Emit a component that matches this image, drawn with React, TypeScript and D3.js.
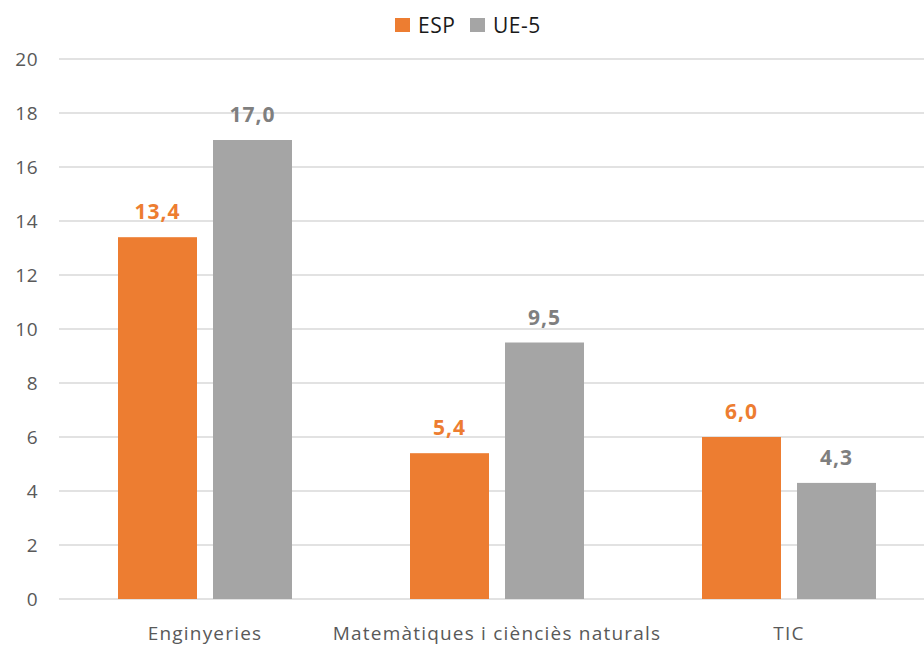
import React from "react";
import * as d3 from "d3";

const categories = ["Enginyeries", "Matemàtiques i ciènciès naturals", "TIC"];
const seriesNames = ["ESP", "UE-5"];
const espValues = [13.4, 5.4, 6.0];
const ueValues = [17.0, 9.5, 4.3];
const yTicks = [0, 2, 4, 6, 8, 10, 12, 14, 16, 18, 20];

const colors = ["#ED7D31", "#A5A5A5"];
const labelColors = ["#ED7D31", "#7F7F7F"];
const FONT = "'Open Sans', 'Noto Sans', sans-serif";

export default function App() {
  const W = 924;
  const H = 645;
  const left = 59;
  const right = 935;
  const top = 59;
  const bottom = 599;

  const x = d3.scaleBand<string>().domain(categories).range([left, right]).paddingInner(0).paddingOuter(0);
  const y = d3.scaleLinear().domain([0, 20]).range([bottom, top]);
  const barW = 79;
  const gap = 16;
  const groupW = barW * 2 + gap;
  const series = [espValues, ueValues];

  return (
    <div style={{ position: "absolute", left: 0, top: 0 }}>
      <svg width={W} height={H} style={{ display: "block", background: "#fff" }}>
        {yTicks.map((t) => (
          <g key={t}>
            <line x1={left} x2={right} y1={y(t)} y2={y(t)} stroke="#D9D9D9" strokeWidth={1.3} />
            <text x={38} y={y(t)} dy="0.36em" textAnchor="end" fontFamily={FONT} fontSize={19} letterSpacing={0.5} fill="#595959">
              {t}
            </text>
          </g>
        ))}
        {categories.map((c, i) => {
          const gx = (x(c) as number) + (x.bandwidth() - groupW) / 2;
          return (
            <g key={c}>
              {series.map((vals, s) => {
                const bx = gx + s * (barW + gap);
                const v = vals[i];
                return (
                  <g key={s}>
                    <rect x={bx} y={y(v)} width={barW} height={bottom - y(v)} fill={colors[s]} />
                    <text
                      x={bx + barW / 2}
                      y={y(v) - 18}
                      textAnchor="middle"
                      fontFamily={FONT}
                      fontWeight={700}
                      fontSize={21}
                      letterSpacing={1}
                      fill={labelColors[s]}
                    >
                      {v.toFixed(1).replace(".", ",")}
                    </text>
                  </g>
                );
              })}
              <text
                x={(x(c) as number) + x.bandwidth() / 2}
                y={640}
                textAnchor="middle"
                fontFamily={FONT}
                fontSize={19}
                letterSpacing={1.2}
                fill="#595959"
              >
                {c}
              </text>
            </g>
          );
        })}
        {seriesNames.map((n, s) => {
          const lx = s === 0 ? 395 : 470;
          return (
            <g key={n}>
              <rect x={lx} y={18} width={15} height={14} fill={colors[s]} />
              <text x={lx + 23} y={25} dy="0.36em" fontFamily={FONT} fontSize={21} letterSpacing={0.5} fill="#1a1a1a">
                {n}
              </text>
            </g>
          );
        })}
      </svg>
    </div>
  );
}
